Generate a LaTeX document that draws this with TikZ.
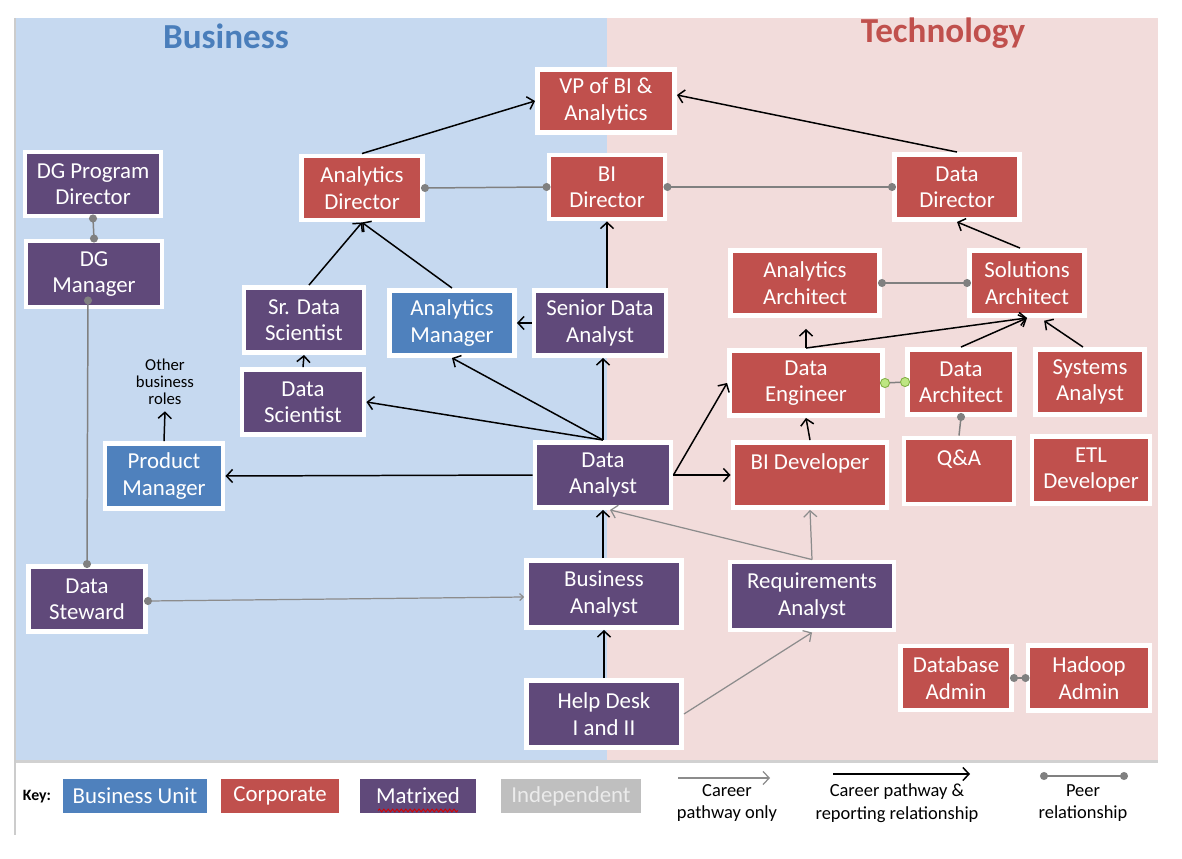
\documentclass[tikz,border=0pt]{standalone}
\usepackage{fontspec}
\setmainfont{Carlito}
\usetikzlibrary{arrows.meta,calc,shadows,decorations.pathmorphing}
\definecolor{corp}{RGB}{192,80,77}
\definecolor{matr}{RGB}{96,73,122}
\definecolor{bunit}{RGB}{79,129,189}
\definecolor{indep}{RGB}{191,191,191}
\definecolor{bgblue}{RGB}{198,217,240}
\definecolor{bgpink}{RGB}{242,220,219}
\definecolor{peergray}{RGB}{128,128,128}
\definecolor{careergray}{RGB}{140,140,140}
\definecolor{titleblue}{RGB}{74,126,187}
\definecolor{titlered}{RGB}{192,80,77}
\definecolor{dotgreen}{RGB}{190,230,130}
\definecolor{dotgreenline}{RGB}{130,175,70}
\newcommand\rb[7]{\node[role,fill=#6,minimum width={(#4-5)*0.02cm},minimum height={(#5-5)*0.02cm}] (#1) at (#2,#3) {#7};}
\begin{document}
\begin{tikzpicture}[x=0.02cm,y=-0.02cm,
  role/.style={draw=white, line width=2.8pt, text=white, align=center,
    font=\fontsize{13}{15}\selectfont, inner sep=0pt,
    drop shadow={shadow xshift=1pt,shadow yshift=-1.2pt,opacity=0.3}},
  rep/.style={-{Straight Barb[length=3.5pt,width=7.5pt]}, line width=0.85pt, black},
  car/.style={-{Straight Barb[length=3.5pt,width=7.5pt]}, line width=0.7pt, careergray},
  peer/.style={line width=0.85pt, peergray},
  pdot/.style={fill=peergray},
  keytext/.style={align=center, font=\fontsize{10.5}{13}\selectfont, text=black},
]
\useasboundingbox (0,0) rectangle (1182,858);
% backgrounds
\fill[bgblue] (15,18) rectangle (607,760);
\fill[bgpink] (607,18) rectangle (1158,760);
\fill[black!18] (15,760) rectangle (1158,763);
\draw[black!20, line width=0.8pt] (15,18) -- (15,835);
% titles
\node[font=\fontsize{20}{22}\selectfont\bfseries, text=titleblue] (tbus) at (226,36) {Business};
\node[font=\fontsize{20}{22}\selectfont\bfseries, text=titlered] (ttech) at (943,33) {Technology};
% boxes
\rb{vp}{606}{101}{142}{68}{corp}{VP of BI \&\\Analytics}
\rb{dgpd}{93}{184}{141}{69}{matr}{DG Program\\Director}
\rb{dgm}{94}{274}{141}{71}{matr}{DG\\Manager}
\rb{ad}{362}{188}{126}{69}{corp}{Analytics\\Director}
\rb{bid}{607}{187}{121}{69}{corp}{BI\\Director}
\rb{dd}{957}{187}{130}{70}{corp}{Data\\Director}
\rb{aa}{805}{283}{154}{70}{corp}{Analytics\\Architect}
\rb{sa}{1027}{283}{120}{70}{corp}{Solutions\\Architect}
\rb{sds}{304}{320}{125}{70}{matr}{Sr. Data\\Scientist}
\rb{am}{452}{323}{130}{70}{bunit}{Analytics\\Manager}
\rb{sda}{600}{323}{137}{70}{matr}{Senior Data\\Analyst}
\rb{ds}{303}{402}{127}{70}{matr}{Data\\Scientist}
\rb{de}{806}{383}{158}{70}{corp}{Data\\Engineer}
\rb{da}{961}{382}{112}{70}{corp}{Data\\Architect}
\rb{sys}{1090}{382}{114}{70}{corp}{Systems\\Analyst}
\rb{pm}{164}{476}{123}{70}{bunit}{Product\\Manager}
\rb{dan}{603}{475}{141}{70}{matr}{Data\\Analyst}
\rb{bidev}{810}{475}{159}{70}{corp}{BI Developer\\~}
\rb{qa}{959}{471}{115}{71}{corp}{Q\&A\\~}
\rb{etl}{1091}{470}{123}{72}{corp}{ETL\\Developer}
\rb{dst}{87}{599}{122}{70}{matr}{Data\\Steward}
\rb{ba}{604}{594}{160}{72}{matr}{Business\\Analyst}
\rb{ra}{812}{596}{169}{73}{matr}{Requirements\\Analyst}
\rb{hd}{604}{714}{160}{72}{matr}{Help Desk\\I and II}
\rb{dba}{956}{678}{116}{69}{corp}{Database\\Admin}
\rb{ha}{1089}{678}{127}{70}{corp}{Hadoop\\Admin}
\node[align=center, font=\fontsize{9.5}{9.8}\selectfont] (obr) at (165,382) {Other\\business\\roles};
% career + reporting arrows
\draw[rep] (ad.north) -- (vp.west);
\draw[rep] (dd.north) -- ($(vp.east)+(0,-6)$);
\draw[rep] (sda.north -| bid.south) -- (bid.south);
\draw[rep] ($(sds.north)+(5,0)$) -- (ad.south);
\draw[rep] (am.north) -- (ad.south);
\draw[rep] (sda.west) -- (am.east);
\draw[rep] (ds.north) -- (sds.south);
\draw[rep] (dan.north) -- (sda.south -| dan.north);
\draw[rep] (dan.north) -- (am.south);
\draw[rep] (dan.north) -- (ds.east);
\draw[rep] (dan.west) -- (pm.east);
\draw[rep] (pm.north) -- (obr.south);
\draw[rep] (dan.east) -- (bidev.west);
\draw[rep] (dan.east) -- (de.west);
\draw[rep] (bidev.north) -- (de.south);
\draw[rep, shorten >=0.22cm] (de.north) -- (aa.south -| de.north);
\draw[rep] (de.north) -- (sa.south);
\draw[rep] (da.north) -- (sa.south);
\draw[rep, shorten >=0.1cm] ($(sys.north)+(-7,0)$) -- ($(sa.south)+(13,0)$);
\draw[rep] ($(sa.north)+(-7,0)$) -- (dd.south);
\draw[rep] (ba.north -| dan.south) -- (dan.south);
\draw[rep] (hd.north) -- (ba.south);
% career only
\draw[car] (hd.east) -- (ra.south);
\draw[car] (ra.north) -- (bidev.south);
\draw[car] (ra.north) -- ($(dan.south)+(7,0)$);
\draw[car, -{Straight Barb[length=2pt,width=4pt]}] ($(dst.east)+(0,2)$) -- ($(ba.west)+(0,3)$);
\fill[pdot] ($(dst.east)+(0,2)$) circle (2.3pt);
% peer relationships
\draw[peer] (ad.east) -- (bid.west);
\fill[pdot] (ad.east) circle (2.3pt) (bid.west) circle (2.3pt);
\draw[peer] (bid.east) -- (dd.west);
\fill[pdot] (bid.east) circle (2.3pt) (dd.west) circle (2.3pt);
\draw[peer] (aa.east) -- (sa.west);
\fill[pdot] (aa.east) circle (2.3pt) (sa.west) circle (2.3pt);
\draw[peer] (de.east) -- (da.west);
\filldraw[fill=dotgreen, draw=dotgreenline, line width=0.5pt] (de.east) circle (2.6pt) (da.west) circle (2.6pt);
\draw[peer] (da.south) -- (qa.north);
\fill[pdot] (da.south) circle (2.3pt);
\draw[peer] (dgpd.south) -- (dgm.north);
\fill[pdot] (dgpd.south) circle (2.3pt) (dgm.north) circle (2.3pt);
\coordinate (dgmdot) at ($(dgm.south)+(-6,-9)$);
\draw[peer] (dgmdot) -- (dst.north);
\fill[pdot] (dgmdot) circle (2.3pt) (dst.north) circle (2.3pt);
\draw[peer] (dba.east) -- (ha.west);
\fill[pdot] (dba.east) circle (2.3pt) (ha.west) circle (2.3pt);
% key
\node[font=\fontsize{9}{10}\selectfont\bfseries] (key) at (37,797) {Key:};
\rb{kbu}{135}{796}{153}{43}{bunit}{Business Unit}
\rb{kco}{280}{796}{127}{43}{corp}{Corporate}
\rb{kma}{418}{796}{126}{43}{matr}{Matrixed}
\node[role, fill=indep, text=white!92!black, minimum width={(149-5)*0.02cm}, minimum height={(43-5)*0.02cm}] (kin) at (571,796) {Independent};
\draw[red!85!black, line width=0.5pt, decorate, decoration={snake, amplitude=0.8pt, segment length=2.5pt}] ($(kma.south west)+(23,-7)$) -- ($(kma.south east)+(-23,-7)$);
\coordinate (k1a) at (678,778);
\coordinate (k1b) at (770,778);
\draw[car] (k1a) -- (k1b);
\node[keytext] (k1t) at (727,803) {Career\\pathway only};
\coordinate (k2a) at (833,774);
\coordinate (k2b) at (970,774);
\draw[rep] (k2a) -- (k2b);
\node[keytext] (k2t) at (897,803) {Career pathway \&\\reporting relationship};
\coordinate (k3a) at (1044,776);
\coordinate (k3b) at (1124,776);
\draw[peer] (k3a) -- (k3b);
\fill[pdot] (k3a) circle (2.3pt) (k3b) circle (2.3pt);
\node[keytext] (k3t) at (1083,803) {Peer\\relationship};
\end{tikzpicture}
\end{document}
